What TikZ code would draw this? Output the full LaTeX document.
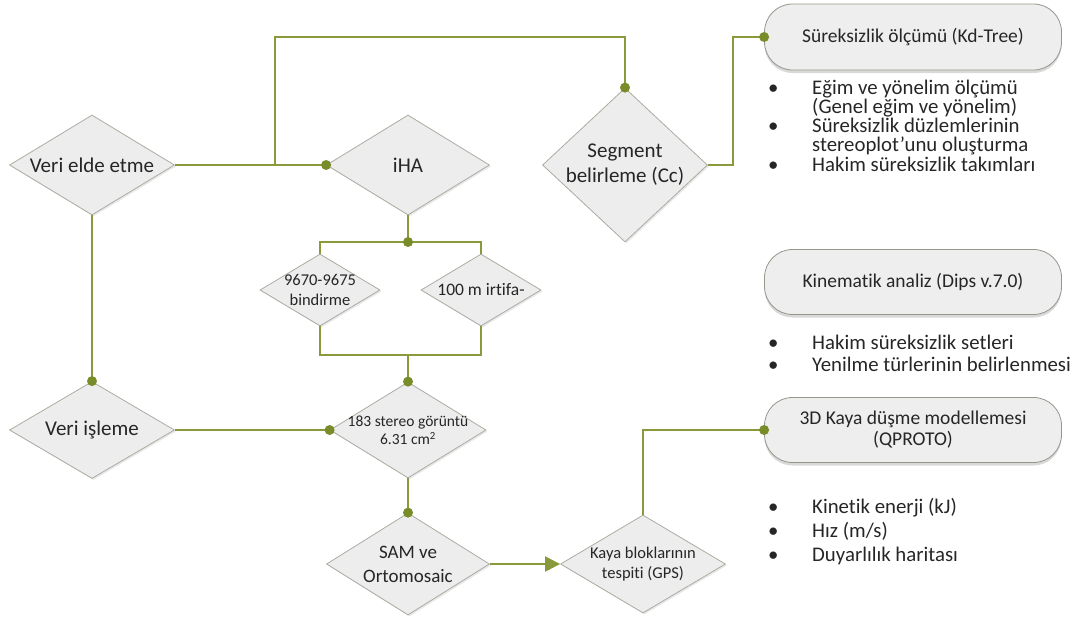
\documentclass[tikz,border=0pt]{standalone}
\usepackage{fontspec}
\setmainfont{Carlito}[Ligatures={TeX,NoCommon}]
\usetikzlibrary{shapes.geometric,shadows,arrows.meta,calc}
\definecolor{lnc}{RGB}{136,154,60}
\definecolor{dotc}{RGB}{120,140,42}
\definecolor{diaf}{RGB}{237,237,237}
\definecolor{diab}{RGB}{172,172,162}
\definecolor{boxf}{RGB}{238,238,238}
\definecolor{boxb}{RGB}{150,150,140}
\definecolor{txt}{RGB}{38,38,38}
\newcommand{\bitem}[1]{\makebox[44pt][l]{\textbullet}#1}
\newcommand{\bcont}[1]{\hspace*{44pt}#1}
\newcommand{\blist}[2]{\parbox[t]{310pt}{\fontsize{20.8}{#1}\selectfont\lineskiplimit=-30pt\parindent=0pt #2}}
\begin{document}
\begin{tikzpicture}[x=1pt,y=-1pt,
  dia/.style={diamond, draw=diab, fill=diaf, line width=0.8pt, inner sep=0pt,
    drop shadow={shadow xshift=1.5pt, shadow yshift=-1.5pt, opacity=0.18}},
  lbl/.style={text=txt, align=center, inner sep=0pt},
  big/.style={font=\fontsize{21}{25}\selectfont},
  med/.style={font=\fontsize{19}{24}\selectfont},
  sml/.style={font=\fontsize{16.5}{20}\selectfont},
  tiny/.style={font=\fontsize{15.5}{18}\selectfont},
  roundbox/.style={rectangle, rounded corners=28pt, draw=boxb, fill=boxf, line width=0.8pt,
    minimum width=297pt, minimum height=65pt, align=center, text=txt,
    font=\fontsize{19.5}{21}\selectfont,
    drop shadow={shadow xshift=0pt, shadow yshift=-3pt, opacity=0.3}},
  lst/.style={text=txt, inner sep=0pt, anchor=base west},
  ln/.style={draw=lnc, line width=2.2pt},
  dot/.style={fill=dotc}
]
\useasboundingbox (0,0) rectangle (1075,619);

% diamonds
\node[dia, minimum width=165pt, minimum height=100pt,
  label={[lbl,big]center:Veri elde etme}] (veri) at (92,165) {};
\node[dia, minimum width=163pt, minimum height=100pt,
  label={[lbl,big]center:iHA}] (iha) at (408,165) {};
\node[dia, minimum width=165pt, minimum height=154pt,
  label={[lbl,big]center:Segment\\belirleme (Cc)}] (seg) at (625,165) {};
\node[dia, minimum width=120pt, minimum height=72pt,
  label={[lbl,sml]center:9670-9675\\bindirme}] (bind) at (320,290) {};
\node[dia, minimum width=120pt, minimum height=72pt,
  label={[lbl,font=\fontsize{17.5}{20}\selectfont]center:100 m irtifa-}] (irt) at (481,290) {};
\node[dia, minimum width=156pt, minimum height=96pt,
  label={[lbl,tiny]center:183 stereo görüntü\\6.31 cm\textsuperscript{2}}] (ster) at (408,430) {};
\node[dia, minimum width=165pt, minimum height=97pt,
  label={[lbl,big]center:Veri işleme}] (isl) at (92,430) {};
\node[dia, minimum width=163pt, minimum height=102pt,
  label={[lbl,med]center:SAM ve\\Ortomosaic}] (sam) at (408,564) {};
\node[dia, minimum width=165pt, minimum height=98pt,
  label={[lbl,sml]center:Kaya bloklarının\\tespiti (GPS)}] (kaya) at (643,564) {};

% rounded boxes
\node[roundbox, minimum height=66pt] (sur) at (913,37) {Süreksizlik ölçümü (Kd-Tree)};
\node[roundbox] (kin) at (913,282) {Kinematik analiz (Dips v.7.0)};
\node[roundbox] (kd) at (913,430) {3D Kaya düşme modellemesi\\(QPROTO)};

% bullet lists
\node[lst] (l1) at (768,94) {\blist{19.3}{%
\bitem{Eğim ve yönelim ölçümü}\\
\bcont{(Genel eğim ve yönelim)}\\
\bitem{Süreksizlik düzlemlerinin}\\
\bcont{stereoplot'unu oluşturma}\\
\bitem{Hakim süreksizlik takımları}}};
\node[lst] (l2) at (768,349) {\blist{22}{%
\bitem{Hakim süreksizlik setleri}\\
\bitem{Yenilme türlerinin belirlenmesi}}};
\node[lst] (l3) at (768,513) {\blist{24}{%
\bitem{Kinetik enerji (kJ)}\\
\bitem{Hız (m/s)}\\
\bitem{Duyarlılık haritası}}};

% helper coordinates
\coordinate (j1) at (275,165);
\coordinate (top1) at (275,37);
\coordinate (sp1) at (408,242);
\coordinate (sp2) at (408,355);

% connectors
\draw[ln] (veri.east) -- (iha.west);
\draw[ln] (j1) -- (top1) -| (seg.north);
\draw[ln] (seg.east) -- ++(25,0) |- (sur.west);
\draw[ln] (iha.south) -- (sp1);
\draw[ln] (bind.north) |- (sp1) -| (irt.north);
\draw[ln] (bind.south) |- (sp2) -| (irt.south);
\draw[ln] (sp2) -- (ster.north);
\draw[ln] (veri.south) -- (isl.north);
\draw[ln] (isl.east) -- (ster.west);
\draw[ln] (ster.south) -- (sam.north);
\draw[ln, -{Triangle[length=15pt,width=15pt]}] (sam.east) -- (kaya.west);
\draw[ln] (kaya.north) |- (kd.west);

% dots
\foreach \p in {iha.west, seg.north, sur.west, sp1, isl.north, ster.west, ster.north, sam.north, kd.west}
  \fill[dot] (\p) circle (5pt);
\end{tikzpicture}
\end{document}
